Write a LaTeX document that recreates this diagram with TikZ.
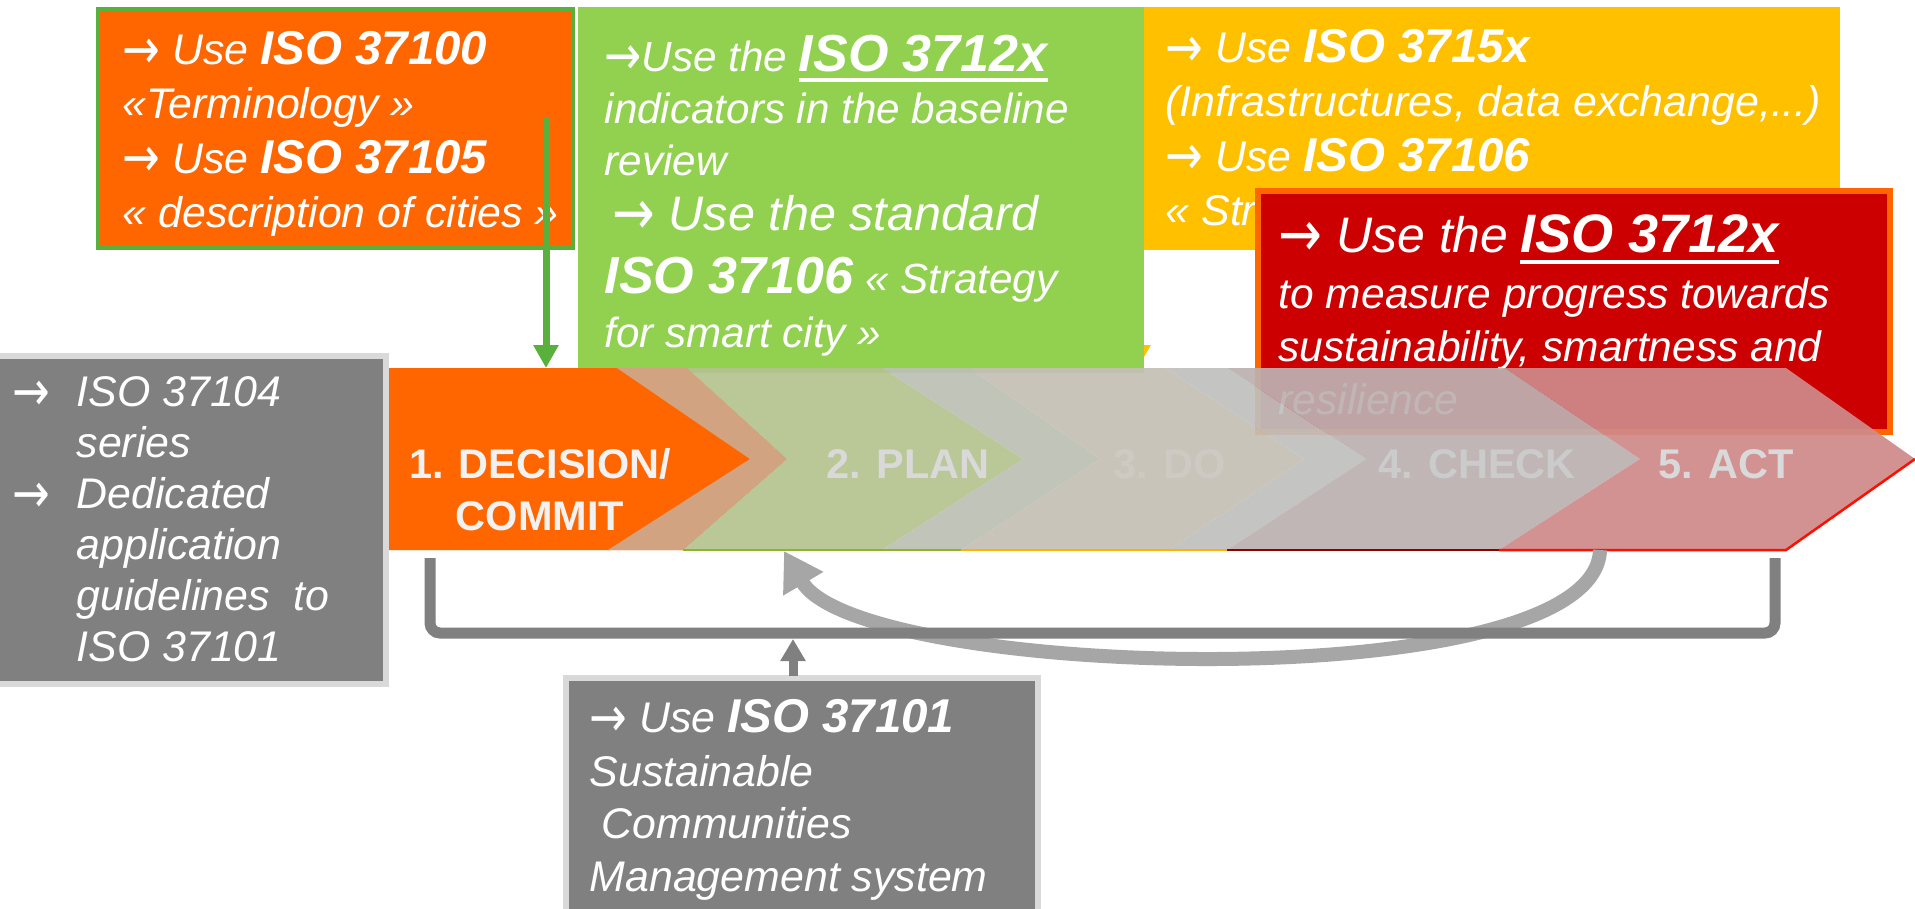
\documentclass[tikz,border=0pt]{standalone}
\usepackage{graphicx}
\usepackage{fontspec}
\setmainfont{Liberation Sans}
\newfontfamily\arrowfont{DejaVu Sans}
\usepackage{tikz}
\usetikzlibrary{arrows.meta}

\definecolor{orangeC}{RGB}{255,102,0}
\definecolor{greenC}{RGB}{146,208,80}
\definecolor{greenD}{RGB}{90,176,60}
\definecolor{yellowC}{RGB}{255,192,0}
\definecolor{redC}{RGB}{204,0,0}
\definecolor{grayC}{RGB}{128,128,128}
\definecolor{grayL}{RGB}{217,217,217}
\definecolor{loopC}{RGB}{166,166,166}
\definecolor{tanC}{RGB}{207,168,139}
\definecolor{planC}{RGB}{181,195,143}
\definecolor{bandA}{RGB}{188,192,180}
\definecolor{doC}{RGB}{196,192,180}
\definecolor{bandB}{RGB}{192,192,190}
\definecolor{checkC}{RGB}{189,177,177}
\definecolor{actC}{RGB}{207,138,138}

\newcommand{\rarr}{{\arrowfont\upshape\raisebox{-0.08em}{\scalebox{1.05}[1.3]{→}}}}
\newcommand{\isob}[2][13.5pt]{{\fontsize{#1}{15pt}\selectfont\bfseries #2}}
\newcommand{\isoul}[1]{\setbox0\hbox{#1}\rlap{\rule[-3.2pt]{\wd0}{1.2pt}}\box0}

\begin{document}
\begin{tikzpicture}[x=0.1mm, y=-0.1mm,
  boxtxt/.style={anchor=north west, inner sep=0pt, align=left, text=white,
    font=\itshape\fontsize{12.2pt}{15.4pt}\selectfont},
  steplbl/.style={inner sep=0pt, font=\bfseries\fontsize{11.8pt}{14.8pt}\selectfont},
  chev/.style={fill opacity=0.93},
  downarr/.style={line width=0.7mm, -{Triangle[length=2.3mm,width=2.4mm]}},
  loopline/.style={draw=loopC, line width=1.4mm, -{Triangle[length=3.8mm,width=4.4mm]}},
  bracketline/.style={draw=grayC, line width=1.1mm, rounded corners=1mm},
  uparr/.style={draw=grayC, line width=0.9mm, -{Triangle[length=2.2mm,width=2.4mm]}}]
\fill[white] (0,0) rectangle (1915,908);
\useasboundingbox (0,0) rectangle (1915,908);

% Boxes above the steps
\fill[yellowC] (1139,7) rectangle (1840,250);
\node[boxtxt] (doTxt) at (1165,29) {\rarr\ Use \isob{ISO 3715x}\\
(Infrastructures, data exchange,...)\\
\rarr\ Use \isob{ISO 37106}\\
« Str};
\coordinate (doS) at (1138,250);
\coordinate (doTop) at (1138,368);
\draw[downarr, draw=yellowC] (doS) -- (doTop);

\fill[greenC] (578,7) rectangle (1144,373);
\node[boxtxt, font=\itshape\fontsize{12pt}{14.8pt}\selectfont] (planTxt) at (604,34) {\rarr Use the \isoul{\isob[14.8pt]{ISO 3712x}}\\
indicators in the baseline\\
review\\[0.9pt]
{\fontsize{13.8pt}{15pt}\selectfont\,\rarr\ Use the standard}\\[3.1pt]
\isob[14.8pt]{ISO 37106} « Strategy\\[0.6pt]
for smart city »};

\filldraw[fill=orangeC, draw=greenD, line width=0.45mm] (98,9) rectangle (573,248);
\node[boxtxt] (decTxt) at (122,31) {\rarr\ Use \isob{ISO 37100}\\
«Terminology »\\
\rarr\ Use \isob{ISO 37105}\\
« description of cities »};
\coordinate (decS) at (546,118);
\coordinate (decTop) at (546,368);
\draw[downarr, draw=greenD] (decS) -- (decTop);

\filldraw[fill=redC, draw=orangeC, line width=0.6mm] (1258,191) rectangle (1890,432);
\node[boxtxt, font=\itshape\fontsize{12.1pt}{15pt}\selectfont] (actTxt) at (1278,214) {{\fontsize{14.2pt}{15pt}\selectfont\rarr\ Use the} \isoul{\isob[15.4pt]{ISO 3712x}}\\[1pt]
to measure progress towards\\
sustainability, smartness and\\
resilience};

\filldraw[fill=grayC, draw=grayL, line width=0.55mm] (-10,356) rectangle (386,684);
\node[boxtxt, font=\itshape\fontsize{12.2pt}{14.5pt}\selectfont] (seriesTxt) at (12,376) {\makebox[18.2pt][l]{\rarr}ISO 37104\\
\hspace*{18.2pt}series\\
\makebox[18.2pt][l]{\rarr}Dedicated\\
\hspace*{18.2pt}application\\
\hspace*{18.2pt}guidelines~ to\\
\hspace*{18.2pt}ISO 37101};

% The five steps
\fill[orangeC] (389,368) -- (687,368) -- (787,459) -- (683,550) -- (389,550) -- cycle;
\fill[chev, tanC] (617,368) -- (687,368) -- (787,459) -- (683,550) -- (608,550) -- (750,459) -- cycle;
\fill[chev, planC] (687,368) -- (882,368) -- (1023,459) -- (882,550) -- (683,550) -- (787,459) -- cycle;
\fill[chev, bandA] (882,368) -- (969,368) -- (1100,459) -- (961,550) -- (882,550) -- (1023,459) -- cycle;
\fill[chev, doC] (969,368) -- (1165,368) -- (1304,459) -- (1169,550) -- (961,550) -- (1100,459) -- cycle;
\fill[chev, bandB] (1165,368) -- (1227,368) -- (1366,459) -- (1227,550) -- (1169,550) -- (1304,459) -- cycle;
\fill[chev, checkC] (1227,368) -- (1505,368) -- (1640,459) -- (1499,550) -- (1227,550) -- (1366,459) -- cycle;
\fill[chev, actC] (1505,368) -- (1786,368) -- (1915,459) -- (1786,550) -- (1499,550) -- (1640,459) -- cycle;
\draw[line width=0.25mm, greenD!70!yellowC] (683,550) -- (961,550);
\draw[line width=0.25mm, yellowC!85!orangeC] (961,550) -- (1227,550);
\draw[line width=0.25mm, redC!70!black] (1227,550) -- (1499,550);
\draw[line width=0.25mm, red!85!orangeC] (1499,550) -- (1786,550) -- (1915,459);

\node[steplbl, align=center, anchor=north, text=white!95!black] (s1) at (540,448) {1. DECISION/\\COMMIT};
\node[steplbl, anchor=base, text=grayL] (s2) at (908,478) {2. PLAN};
\node[steplbl, anchor=base, text={rgb,255:red,204;green,202;blue,195}] (s3) at (1170,478) {3. DO};
\node[steplbl, anchor=base, text={rgb,255:red,203;green,203;blue,203}] (s4) at (1477,478) {4. CHECK};
\node[steplbl, anchor=base, text=grayL] (s5) at (1726,478) {5. ACT};

% Loop back and frame
\coordinate (lpS) at (1600,550);
\coordinate (lpE) at (784,551);
\draw[loopline] (lpS) .. controls (1595,700) and (860,680) .. (lpE);
\coordinate (brL) at (430,558);
\coordinate (brR) at (1775,558);
\draw[bracketline] (brL) -- (430,633) -- (1775,633) -- (brR);

\filldraw[fill=grayC, draw=grayL, line width=0.55mm] (566,678) rectangle (1038,930);
\node[boxtxt, font=\itshape\fontsize{12.2pt}{14.8pt}\selectfont] (mgmtTxt) at (589,699) {\rarr\ Use \isob{ISO 37101}\\[0.6pt]
Sustainable\\
\ Communities\\
Management system};
\coordinate (mgTop) at (793,676);
\coordinate (brMid) at (793,639);
\draw[uparr] (mgTop) -- (brMid);
\end{tikzpicture}
\end{document}
